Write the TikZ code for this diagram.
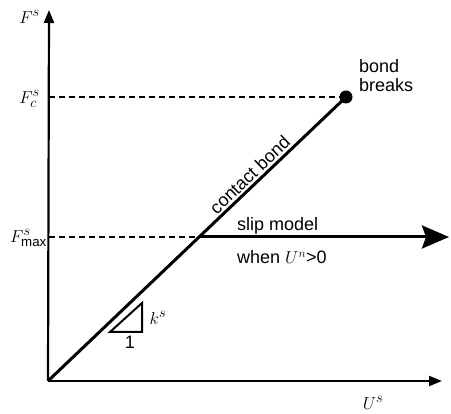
\documentclass[tikz,border=0pt]{standalone}
\usepackage{amsmath}
\usepackage{fontspec}
\setmainfont{Liberation Sans}
\usetikzlibrary{arrows.meta}
\begin{document}
\begin{tikzpicture}[x=1pt,y=-1pt,
  axisline/.style={line width=2.2pt},
  bondline/.style={line width=3pt},
  guide/.style={line width=2pt, dash pattern=on 6pt off 4pt},
  lbl/.style={font=\fontsize{18}{19}\selectfont, inner sep=0pt},
  mlbl/.style={font=\fontsize{19}{20}\selectfont, inner sep=0pt}]
\useasboundingbox (0,0) rectangle (451,414);
\coordinate (O) at (48,381);
\coordinate (ytop) at (49,10);
\coordinate (xend) at (442,381);
\coordinate (B) at (346,97);
\coordinate (Fc) at (49,97);
\coordinate (Fm) at (49,237);
\coordinate (I) at (200,237);
\coordinate (S) at (449,237);
% axes
\draw[axisline, -{Triangle[length=13pt,width=10pt]}] (O) -- (ytop);
\draw[axisline, -{Triangle[length=13pt,width=10pt]}] (O) -- (xend);
% guides
\draw[guide] (Fc) -- (B);
\draw[guide] (Fm) -- (I);
% contact bond
\draw[bondline] (O) -- node[lbl, sloped, anchor=south, pos=0.7, inner sep=2pt] (cb) {contact bond} (B);
\fill (B) circle (6.5);
% slip
\draw[bondline, -{Stealth[length=27pt,width=23pt,inset=4pt]}] (I) -- (S);
% slope triangle
\draw[line width=2pt] (110,332) coordinate (t1) -- (142,332) coordinate (t2) -- (142,303) coordinate (t3) -- cycle;
% labels
\node[mlbl, anchor=east] (lFs) at (40,17) {$F^{s}$};
\node[mlbl, anchor=east] (lFc) at (40,99) {$F^{s}_{c}$};
\node[mlbl, anchor=east] (lFm) at (47,238) {$F^{s}_{\text{max}}$};
\node[lbl, anchor=north west, align=left] (bb) at (359,59) {bond\\breaks};
\node[lbl, anchor=base west] (sm) at (237,231) {slip model};
\node[lbl, anchor=base west] (wh) at (237,264) {when $U^{n}$>0};
\node[mlbl] (ks) at (158,318) {$k^{s}$};
\node[lbl] (one) at (130,342) {1};
\node[mlbl] (us) at (373,403) {$U^{s}$};
\end{tikzpicture}
\end{document}
